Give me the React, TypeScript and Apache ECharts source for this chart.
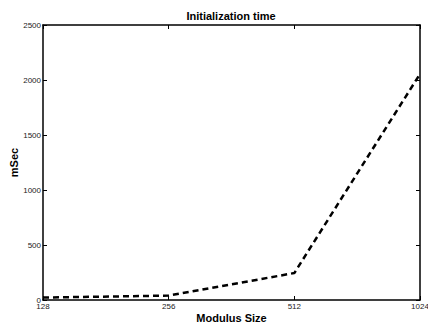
import React, { useEffect, useRef } from "react";
import * as echarts from "echarts";

const categories = ["128", "256", "512", "1024"];
const initTime = [22, 40, 245, 2055];
const yMin = 0;
const yMax = 2500;
const yInterval = 500;

const FONT = "'Liberation Sans', Arial, Helvetica, sans-serif";

export default function App() {
  const ref = useRef<HTMLDivElement>(null);
  useEffect(() => {
    if (!ref.current) return;
    const chart = echarts.init(ref.current, null, { renderer: "svg" });
    const axisLine = { show: true, onZero: false, lineStyle: { color: "#000", width: 1.5 } };
    const tick = { show: true, inside: true, length: 4, lineStyle: { color: "#000", width: 1 } };
    chart.setOption({
      animation: false,
      backgroundColor: "#fff",
      title: {
        text: "Initialization time",
        left: 231,
        textAlign: "center",
        top: 10,
        padding: 0,
        textStyle: { fontFamily: FONT, fontSize: 11, fontWeight: "bold", color: "#000" },
      },
      grid: {
        left: 43,
        right: 8,
        top: 25,
        bottom: 22,
        containLabel: false,
        outerBoundsMode: "none",
      },
      xAxis: [
        {
          type: "category",
          data: categories,
          boundaryGap: false,
          position: "bottom",
          name: "Modulus Size",
          nameLocation: "middle",
          nameGap: 12,
          nameMoveOverlap: false,
          nameTextStyle: { fontFamily: FONT, fontSize: 11, fontWeight: "bold", color: "#000" },
          axisLine,
          axisTick: tick,
          axisLabel: { fontFamily: FONT, fontSize: 8, lineHeight: 7, color: "#222", margin: 3 },
          splitLine: { show: false },
        },
        {
          type: "category",
          data: categories,
          boundaryGap: false,
          position: "top",
          axisLine,
          axisTick: tick,
          axisLabel: { show: false },
          splitLine: { show: false },
        },
      ],
      yAxis: [
        {
          type: "value",
          min: yMin,
          max: yMax,
          interval: yInterval,
          position: "left",
          name: "mSec",
          nameLocation: "middle",
          nameGap: 24,
          nameMoveOverlap: false,
          nameRotate: 90,
          nameTextStyle: { fontFamily: FONT, fontSize: 11, fontWeight: "bold", color: "#000" },
          axisLine,
          axisTick: tick,
          axisLabel: {
            fontFamily: FONT,
            fontSize: 8,
            lineHeight: 6,
            color: "#222",
            margin: 2,
            formatter: (v: number) => String(v),
          },
          splitLine: { show: false },
        },
        {
          type: "value",
          min: yMin,
          max: yMax,
          interval: yInterval,
          position: "right",
          axisLine,
          axisTick: tick,
          axisLabel: { show: false },
          splitLine: { show: false },
        },
      ],
      series: [
        {
          type: "line",
          data: initTime,
          xAxisIndex: 0,
          yAxisIndex: 0,
          symbol: "none",
          clip: false,
          lineStyle: { color: "#000", width: 2.5, type: [6, 4] },
        },
      ],
    });
    return () => chart.dispose();
  }, []);
  return (
    <div
      ref={ref}
      style={{ position: "fixed", left: 0, top: 0, width: 428, height: 322, background: "#fff" }}
    />
  );
}
